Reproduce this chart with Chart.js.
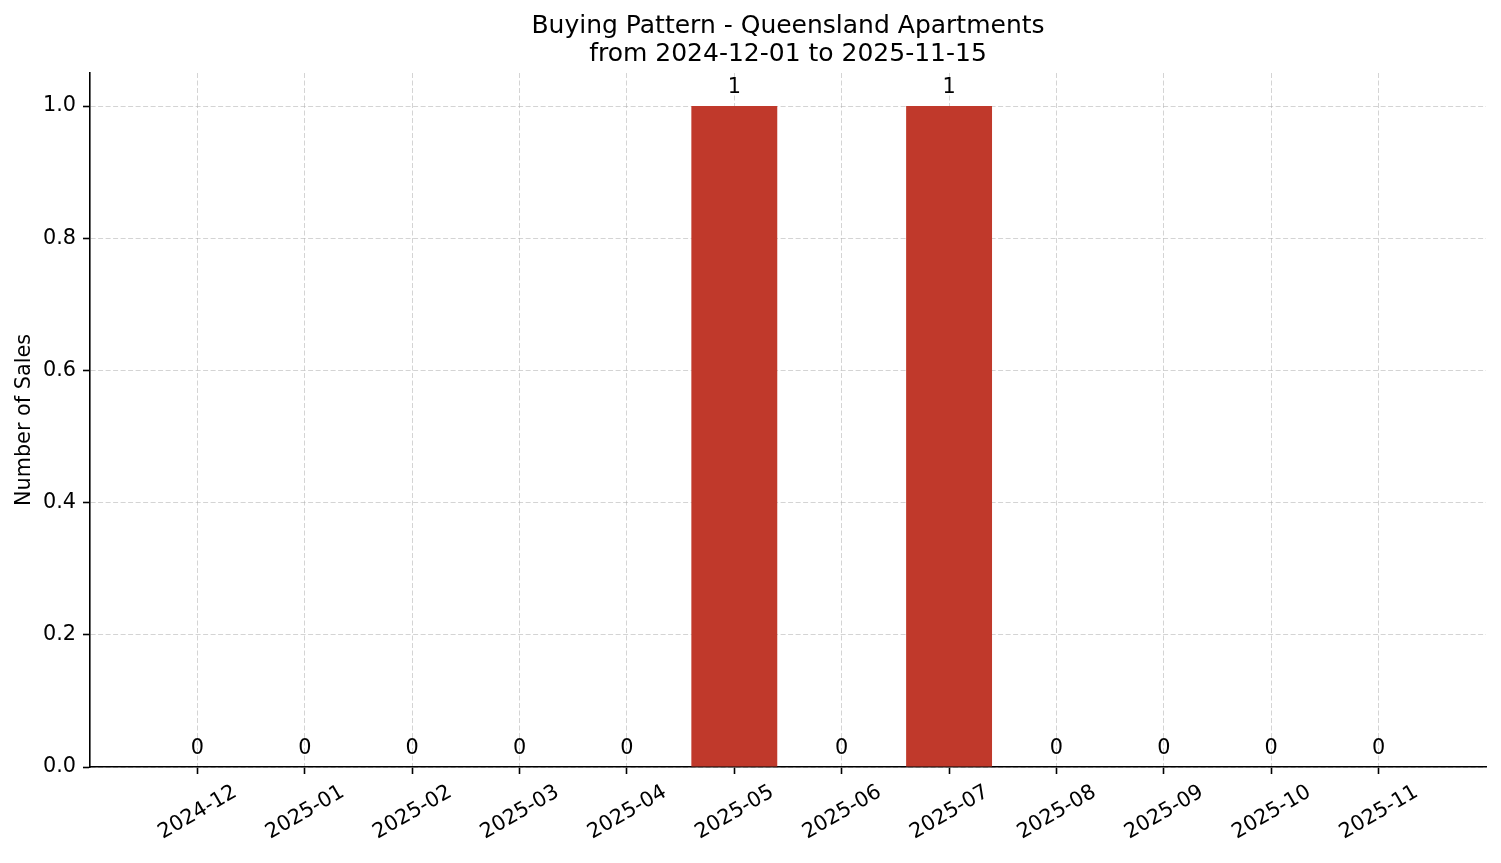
<!DOCTYPE html>
<html>
<head>
<meta charset="utf-8">
<script src="https://cdn.jsdelivr.net/npm/chart.js@4/dist/chart.umd.min.js"></script>
<style>
  html, body { margin: 0; padding: 0; background: #fff; }
  #wrap { width: 1501px; height: 863px; }
</style>
</head>
<body>
<div id="wrap"><canvas id="sales-chart"></canvas></div>
<script>
const titleLines = ["Buying Pattern - Queensland Apartments", "from 2024-12-01 to 2025-11-15"];
const months = ["2024-12", "2025-01", "2025-02", "2025-03", "2025-04", "2025-05",
                "2025-06", "2025-07", "2025-08", "2025-09", "2025-10", "2025-11"];
const salesCounts = [0, 0, 0, 0, 0, 1, 0, 1, 0, 0, 0, 0];
const yAxisTitle = "Number of Sales";

const FONT = "'DejaVu Sans', sans-serif";
const GRID = "rgba(176,176,176,0.55)";

// value labels above each bar (matplotlib-style bar labels)
const barLabels = {
  id: "barLabels",
  afterDraw(chart) {
    const ctx = chart.ctx;
    const meta = chart.getDatasetMeta(0);
    ctx.save();
    ctx.font = "20.8px " + FONT;
    ctx.fillStyle = "#000";
    ctx.textAlign = "center";
    ctx.textBaseline = "alphabetic";
    meta.data.forEach((bar, i) => {
      ctx.fillText(String(salesCounts[i]), bar.x, bar.y - 13);
    });
    ctx.restore();
  },
};

const ctx = document.getElementById("sales-chart").getContext("2d");
new Chart(ctx, {
  type: "bar",
  data: {
    datasets: [{
      data: salesCounts.map((v, i) => ({ x: i, y: v })),
      backgroundColor: "#c0392b",
      borderWidth: 0,
      barPercentage: 0.8,
      categoryPercentage: 1.0,
    }],
  },
  plugins: [barLabels],
  options: {
    responsive: true,
    maintainAspectRatio: false,
    animation: false,
    devicePixelRatio: 1,
    layout: { padding: { left: 0, right: 15, top: 0, bottom: 0 } },
    plugins: {
      legend: { display: false },
      tooltip: { enabled: false },
      title: {
        display: true,
        fullSize: false,   // centre over the plot area, like matplotlib
        text: titleLines,
        color: "#000",
        font: { family: FONT, size: 25, weight: "normal", lineHeight: 1.12 },
        padding: { top: 12, bottom: 5 },
      },
    },
    scales: {
      x: {
        type: "linear",
        min: -1,
        max: 12,
        offset: false,
        z: 1,
        afterBuildTicks: (scale) => {
          scale.ticks = scale.ticks.filter(t => t.value >= 0 && t.value < months.length);
        },
        afterFit: (scale) => { scale.height = 96; },
        ticks: {
          stepSize: 1,
          autoSkip: false,
          minRotation: 30,
          maxRotation: 30,
          labelOffset: 38,
          padding: 6,
          color: "#000",
          font: { family: FONT, size: 20.8 },
          callback: (v) => months[v],
        },
        grid: {
          offset: false,
          color: GRID,
          lineWidth: 1,
          drawTicks: true,
          tickLength: 7,
          tickWidth: 1.6,
          tickColor: "#000",
        },
        border: { display: true, color: "#000", width: 1.6, dash: [5, 2.5] },
      },
      y: {
        min: 0,
        max: 1.05,
        z: 1,
        afterFit: (scale) => { scale.width = 90; },
        ticks: {
          stepSize: 0.2,
          includeBounds: false,
          padding: 7,
          color: "#000",
          font: { family: FONT, size: 20.8 },
          callback: (v) => v.toFixed(1),
        },
        grid: {
          color: GRID,
          lineWidth: 1,
          drawTicks: true,
          tickLength: 7,
          tickWidth: 1.6,
          tickColor: "#000",
        },
        border: { display: true, color: "#000", width: 1.6, dash: [5, 2.5] },
        title: {
          display: true,
          text: yAxisTitle,
          color: "#000",
          font: { family: FONT, size: 20.8 },
          padding: { top: 12, bottom: 0 },
        },
      },
    },
  },
});
</script>
</body>
</html>
